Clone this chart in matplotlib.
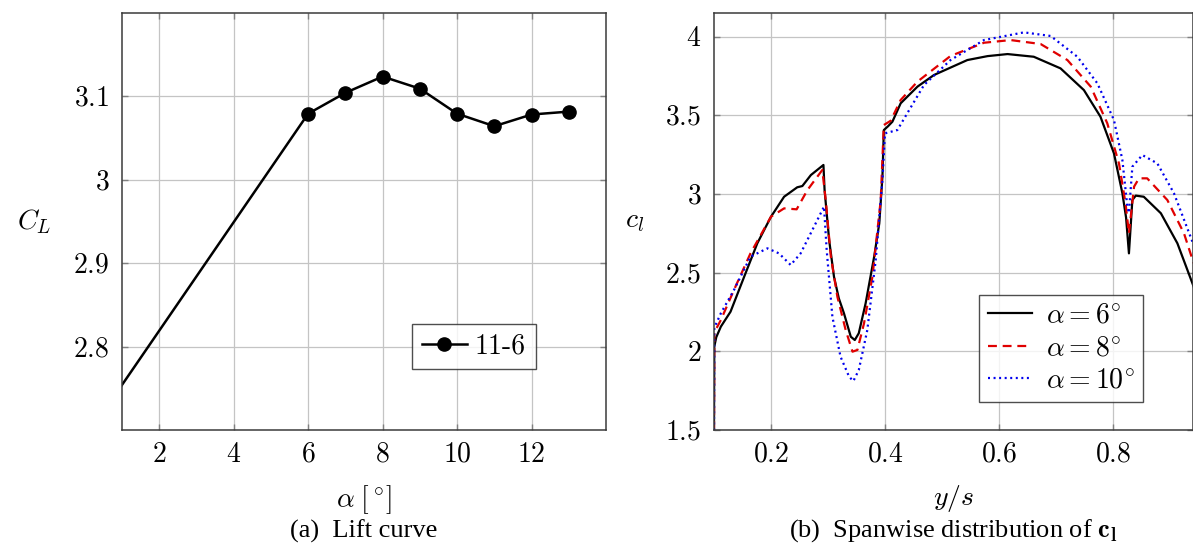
import matplotlib.pyplot as plt

plt.rcParams["mathtext.fontset"] = "cm"
plt.rcParams["font.family"] = ["Liberation Serif", "DejaVu Serif"]

# (a) lift curve of configuration 11-6
alpha = [0, 6, 7, 8, 9, 10, 11, 12, 13]
cl_total = [2.689, 3.079, 3.104, 3.1235, 3.109, 3.079, 3.064, 3.078, 3.0815]

# (b) spanwise lift distribution, alpha = 6 deg
span_6 = [0.1, 0.1005, 0.104, 0.112, 0.129, 0.153, 0.176, 0.2, 0.223, 0.246, 0.255,
          0.27, 0.292, 0.294, 0.302, 0.3105, 0.319, 0.328, 0.34, 0.347, 0.354, 0.366,
          0.381, 0.39, 0.3955, 0.398, 0.405, 0.413, 0.4275, 0.457, 0.486, 0.5445, 0.58,
          0.615, 0.661, 0.708, 0.749, 0.778, 0.8017, 0.8165, 0.823, 0.828, 0.834, 0.84,
          0.854, 0.884, 0.913, 0.9416]
cl_6 = [1.5, 2.03, 2.09, 2.157, 2.252, 2.475, 2.687, 2.856, 2.983, 3.043, 3.051,
        3.121, 3.185, 3.026, 2.708, 2.475, 2.337, 2.242, 2.093, 2.072, 2.115, 2.305,
        2.602, 2.814, 3.11, 3.407, 3.43, 3.46, 3.577, 3.683, 3.757, 3.852, 3.877,
        3.89, 3.873, 3.799, 3.661, 3.492, 3.259, 3.005, 2.85, 2.623, 2.962, 2.99,
        2.983, 2.878, 2.687, 2.411]

# alpha = 8 deg
span_8 = [0.1, 0.1005, 0.112, 0.135, 0.164, 0.2, 0.223, 0.245, 0.264, 0.29, 0.296,
          0.305, 0.3165, 0.331, 0.343, 0.3516, 0.3632, 0.378, 0.3925, 0.398, 0.41,
          0.4275, 0.457, 0.515, 0.5737, 0.6205, 0.673, 0.72, 0.761, 0.79, 0.8105,
          0.822, 0.828, 0.837, 0.8456, 0.86, 0.8954, 0.9246, 0.9416]
cl_8 = [1.5, 2.12, 2.199, 2.39, 2.623, 2.856, 2.909, 2.903, 3.026, 3.153, 2.962,
        2.602, 2.347, 2.136, 1.998, 2.009, 2.178, 2.475, 2.962, 3.439, 3.466,
        3.598, 3.715, 3.878, 3.962, 3.979, 3.954, 3.852, 3.683, 3.45, 3.195,
        2.941, 2.75, 3.047, 3.1, 3.1, 2.962, 2.75, 2.56]

# alpha = 10 deg
span_10 = [0.1, 0.1005, 0.112, 0.135, 0.164, 0.1937, 0.214, 0.2345, 0.252, 0.2754,
           0.293, 0.2977, 0.3077, 0.322, 0.337, 0.3445, 0.354, 0.369, 0.3837, 0.3955,
           0.4, 0.4217, 0.439, 0.4684, 0.515, 0.5737, 0.6438, 0.6907, 0.7375, 0.7726,
           0.8017, 0.8165, 0.8252, 0.828, 0.834, 0.8515, 0.8778, 0.907, 0.9416]
cl_10 = [1.5, 2.15, 2.242, 2.39, 2.602, 2.655, 2.623, 2.549, 2.623, 2.792,
         2.92, 2.644, 2.22, 1.966, 1.839, 1.811, 1.881, 2.136, 2.58, 3.089,
         3.386, 3.407, 3.513, 3.693, 3.852, 3.979, 4.028, 4.005, 3.873, 3.704,
         3.471, 3.216, 2.92, 2.88, 3.174, 3.248, 3.195, 3.005, 2.676]

alpha_ticks = [2, 4, 6, 8, 10, 12]
cl_ticks = [2.8, 2.9, 3.0, 3.1]
cl_tick_labels = ["2.8", "2.9", "3", "3.1"]
span_ticks = [0.2, 0.4, 0.6, 0.8]
local_ticks = [1.5, 2.0, 2.5, 3.0, 3.5, 4.0]
local_tick_labels = ["1.5", "2", "2.5", "3", "3.5", "4"]

FS = 20


def style_axes(ax):
    ax.grid(True, color="#c4c4c4", linewidth=0.9)
    ax.set_axisbelow(True)
    for s in ax.spines.values():
        s.set_color("#3a3a3a")
        s.set_linewidth(1.1)
    ax.tick_params(direction="in", length=4, width=1, color="#808080",
                   top=True, right=True, labelsize=FS, pad=9)


fig = plt.figure(figsize=(11.93, 5.53), dpi=100)

# ---- (a) lift curve ----
ax1 = fig.add_axes([122 / 1193, 123 / 553, 484 / 1193, 417.3 / 553])
ax1.plot(alpha, cl_total, color="black", linewidth=1.8, marker="o",
         markersize=9.5, label="11-6", clip_on=True)
ax1.set_xlim(1, 14)
ax1.set_ylim(2.7, 3.2)
ax1.set_xticks(alpha_ticks)
ax1.set_xticklabels([f"${v}$" for v in alpha_ticks])
ax1.set_yticks(cl_ticks)
ax1.set_yticklabels([f"${v}$" for v in cl_tick_labels])
style_axes(ax1)
ax1.set_xlabel(r"$\alpha\;[\,^{\circ}]$", fontsize=FS, labelpad=11)
ax1.set_ylabel(r"$C_L$", fontsize=FS, rotation=0, labelpad=28, va="center")
leg1 = ax1.legend(loc="lower right", bbox_to_anchor=(0.855, 0.145),
                  fontsize=FS, frameon=True, fancybox=False, handlelength=1.6,
                  handletextpad=0.3, borderpad=0.35, borderaxespad=0)
leg1.get_frame().set_edgecolor("#222222")
leg1.get_frame().set_linewidth(1.0)
for t in leg1.get_texts():
    t.set_fontfamily("cmr10")

# ---- (b) spanwise distribution ----
ax2 = fig.add_axes([714 / 1193, 123 / 553, 479 / 1193, 417.3 / 553])
ax2.plot(span_6, cl_6, color="black", linewidth=1.6, label=r"$\alpha = 6^{\circ}$")
ax2.plot(span_8, cl_8, color="#e00000", linewidth=1.6, linestyle=(0, (4, 2.6)),
         label=r"$\alpha = 8^{\circ}$")
ax2.plot(span_10, cl_10, color="#0000ee", linewidth=1.6, linestyle=(0, (0.9, 1.6)),
         label=r"$\alpha = 10^{\circ}$")
ax2.set_xlim(0.1, 0.9404)
ax2.set_ylim(1.5, 4.153)
ax2.set_xticks(span_ticks)
ax2.set_xticklabels([f"${v}$" for v in span_ticks])
ax2.set_yticks(local_ticks)
ax2.set_yticklabels([f"${v}$" for v in local_tick_labels])
style_axes(ax2)
ax2.set_xlabel(r"$y/s$", fontsize=FS, labelpad=11)
ax2.set_ylabel(r"$c_l$", fontsize=FS, rotation=0, labelpad=22, va="center")
leg2 = ax2.legend(loc="lower left", bbox_to_anchor=(0.554, 0.067),
                  fontsize=FS, frameon=True, fancybox=False, handlelength=1.6,
                  handletextpad=0.5, borderpad=0.3, labelspacing=0.25,
                  borderaxespad=0)
leg2.get_frame().set_edgecolor("#222222")
leg2.get_frame().set_linewidth(1.0)

# captions
fig.text(364 / 1193, 1 - 531 / 553, "(a)  Lift curve", fontsize=19,
         ha="center", va="center")
fig.text(953 / 1193, 1 - 531 / 553, r"(b)  Spanwise distribution of $\mathbf{c_l}$",
         fontsize=19, ha="center", va="center")

fig.savefig("out.png", dpi=100, facecolor="white")
